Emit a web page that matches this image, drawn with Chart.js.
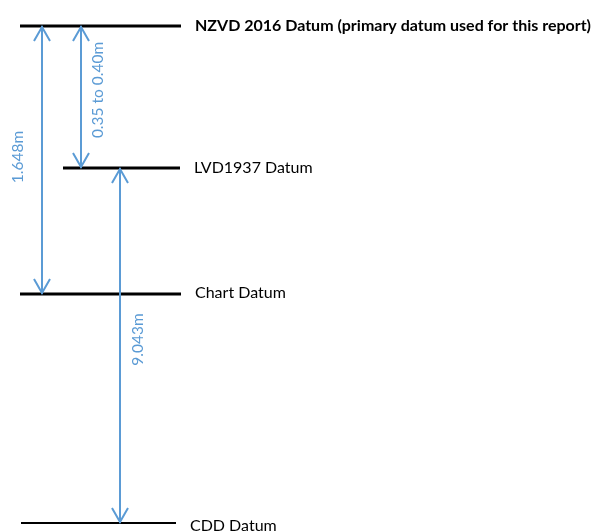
<!DOCTYPE html>
<html><head><meta charset="utf-8">
<script src="https://cdn.jsdelivr.net/npm/chart.js@4/dist/chart.umd.min.js"></script>
<style>html,body{margin:0;padding:0;background:#fff}#wrap{width:598px;height:532px}</style>
</head><body><div id="wrap"><canvas id="c" width="598" height="532"></canvas></div>
<script>
// Datum levels (schematic diagram rows, not to scale)
const datumNames = ['NZVD 2016 Datum (primary datum used for this report)', 'LVD1937 Datum', 'Chart Datum', 'CDD Datum'];
const datumBold = [true, false, false, false];
const datumRow = [26, 168, 294, 523];
const datumStart = [20, 63, 20, 21];
const datumEnd = [181, 180, 181, 176];
const datumWidth = [3, 3, 3, 2];
// Offsets between datums
const offsetLabels = ['1.648m', '0.35 to 0.40m', '9.043m'];
const offsetFrom = [0, 0, 1];
const offsetTo = [2, 1, 3];
const offsetX = [42, 81, 120];

// styling offsets (pixels)
const labelBaselineShift = [5, 5, 4, 8];
const offsetLabelDx = [-19, 22, 23];
const offsetLabelDy = [-3, -7, -6];

const BLUE = '#5B9BD5';
const datasets = datumNames.map((n, i) => ({
  label: n, type: 'line',
  data: [{x: datumStart[i], y: datumRow[i]}, {x: datumEnd[i], y: datumRow[i]}],
  borderColor: '#000', borderWidth: datumWidth[i], pointRadius: 0, order: 1
}));
offsetLabels.forEach((l, k) => {
  datasets.push({
    label: l, type: 'line',
    data: [{x: offsetX[k], y: datumRow[offsetFrom[k]]}, {x: offsetX[k], y: datumRow[offsetTo[k]]}],
    borderColor: BLUE, borderWidth: 2, pointRadius: 0, order: 0
  });
});

const annot = {
  id: 'annot',
  afterDatasetsDraw(chart) {
    const ctx = chart.ctx, xs = chart.scales.x, ys = chart.scales.y;
    ctx.save();
    ctx.strokeStyle = BLUE; ctx.lineWidth = 2; ctx.lineJoin = 'miter'; ctx.lineCap = 'butt';
    offsetLabels.forEach((l, k) => {
      const x = xs.getPixelForValue(offsetX[k]);
      const y1 = ys.getPixelForValue(datumRow[offsetFrom[k]]);
      const y2 = ys.getPixelForValue(datumRow[offsetTo[k]]);
      ctx.beginPath();
      ctx.moveTo(x - 8, y1 + 15); ctx.lineTo(x, y1 + 1); ctx.lineTo(x + 8, y1 + 15);
      ctx.moveTo(x - 8, y2 - 15); ctx.lineTo(x, y2 - 1); ctx.lineTo(x + 8, y2 - 15);
      ctx.stroke();
      ctx.save();
      ctx.translate(x + offsetLabelDx[k], (y1 + y2) / 2 + offsetLabelDy[k]);
      ctx.rotate(-Math.PI / 2);
      ctx.fillStyle = BLUE; ctx.font = '15.5px Lato'; ctx.textAlign = 'center'; ctx.textBaseline = 'alphabetic';
      ctx.fillText(l, 0, 0);
      ctx.restore();
    });
    ctx.fillStyle = '#000'; ctx.textBaseline = 'alphabetic'; ctx.textAlign = 'left';
    datumNames.forEach((n, i) => {
      ctx.font = (datumBold[i] ? 'bold ' : '') + '16px Lato';
      const x = xs.getPixelForValue(datumEnd[i]) + 14;
      ctx.fillText(n, x, ys.getPixelForValue(datumRow[i]) + labelBaselineShift[i]);
    });
    ctx.restore();
  }
};

new Chart(document.getElementById('c'), {
  type: 'line',
  data: {datasets},
  options: {
    responsive: false, animation: false,
    layout: {padding: 0},
    plugins: {legend: {display: false}, tooltip: {enabled: false}},
    scales: {
      x: {type: 'linear', min: 0, max: 598, display: false},
      y: {type: 'linear', min: 0, max: 532, reverse: true, display: false}
    }
  },
  plugins: [annot]
});
</script></body></html>
